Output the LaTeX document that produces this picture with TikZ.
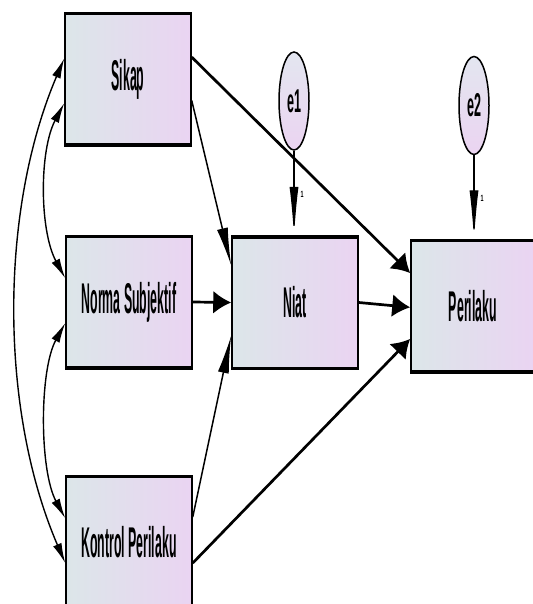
\documentclass[tikz,border=0pt]{standalone}
\usepackage{fontspec}
\setmainfont{Liberation Sans}
\usepackage{graphicx}
\usetikzlibrary{arrows.meta,shapes.geometric,calc}
\definecolor{boxL}{HTML}{DCE6E9}
\definecolor{boxR}{HTML}{EAD4F2}
\definecolor{ellT}{HTML}{E3E6F0}
\definecolor{ellB}{HTML}{EBD4F1}
\newcommand{\boxlabel}[1]{\scalebox{0.287}[1]{\fontsize{43}{45}\selectfont\bfseries #1}}
\newcommand{\elabel}[1]{\scalebox{0.38}[1]{\fontsize{33}{35}\selectfont\bfseries #1}}
\newcommand{\onelabel}{\scalebox{0.6}[1]{\fontsize{9}{9}\selectfont\bfseries 1}}
\begin{document}
\begin{tikzpicture}[x=1pt,y=-1pt,
  varbox/.style={draw=black, line width=1.5pt, left color=boxL, right color=boxR, minimum width=126pt, minimum height=130pt, inner sep=0pt},
  errnode/.style={ellipse, draw=black, line width=1.5pt, top color=ellT, bottom color=ellB, minimum width=30pt, minimum height=98pt, inner sep=0pt},
  thickarrow/.style={line width=2.7pt, -{Latex[length=18pt,width=23pt]}},
  thinarrow/.style={line width=1.5pt, -{Latex[length=38pt,width=11pt]}},
  errarrow/.style={line width=1.3pt, -{Latex[length=50pt,width=9pt]}},
  covar/.style={line width=1.4pt, {Latex[length=20pt,width=9pt]}-{Latex[length=20pt,width=9pt]}},
  edgeframe/.style={line width=3.5pt}
]
\useasboundingbox (0,0) rectangle (532,604);

\node[varbox] (Sikap) at (128,79.5) {\boxlabel{Sikap}};
\node[varbox] (Norma) at (129,302) {\boxlabel{Norma Subjektif}};
\node[varbox] (Kontrol) at (129,542) {\boxlabel{Kontrol Perilaku}};
\node[varbox] (Niat) at (295,302.5) {\boxlabel{Niat}};
\node[varbox, minimum width=124pt] (Perilaku) at (473,306) {\boxlabel{Perilaku}};
\node[errnode] (e1) at (294,101) {\elabel{e1}};
\node[errnode] (e2) at (474,105.5) {\elabel{e2}};

\foreach \n in {Sikap,Norma,Kontrol,Niat,Perilaku}{
  \draw[edgeframe] (\n.north west) -- (\n.north east);
  \draw[edgeframe] (\n.south west) -- (\n.south east);
}

% structural paths
\draw[thickarrow] ($(Sikap.north east)!0.33!(Sikap.south east)$) -- ($(Perilaku.north west)!0.25!(Perilaku.south west)$);
\draw[thinarrow] ($(Sikap.north east)!0.66!(Sikap.south east)$) -- ($(Niat.north west)!0.22!(Niat.south west)$);
\draw[thickarrow] (Norma.east) -- (Niat.west);
\draw[thickarrow] (Niat.east) -- ($(Perilaku.north west)!0.51!(Perilaku.south west)$);
\draw[thinarrow] ($(Kontrol.north east)!0.31!(Kontrol.south east)$) -- ($(Niat.north west)!0.75!(Niat.south west)$);
\draw[thickarrow] ($(Kontrol.north east)!0.66!(Kontrol.south east)$) -- ($(Perilaku.north west)!0.75!(Perilaku.south west)$);

% error terms
\draw[errarrow] (e1.south) -- (e1.south |- Niat.north);
\draw[errarrow] (e2.south) -- (e2.south |- Perilaku.north);
\node[inner sep=0pt] (one1) at (302,194) {\onelabel};
\node[inner sep=0pt] (one2) at (482,198) {\onelabel};

% covariances
\coordinate (sA) at ($(Sikap.north west)!0.34!(Sikap.south west)$);
\coordinate (sB) at ($(Sikap.north west)!0.68!(Sikap.south west)$);
\coordinate (nA) at ($(Norma.north west)!0.32!(Norma.south west)$);
\coordinate (nB) at ($(Norma.north west)!0.66!(Norma.south west)$);
\coordinate (kA) at ($(Kontrol.north west)!0.32!(Kontrol.south west)$);
\coordinate (kB) at ($(Kontrol.north west)!0.66!(Kontrol.south west)$);
\draw[covar] (sB) .. controls ($(sB)+(-25,47)$) and ($(nA)+(-26,-48)$) .. (nA);
\draw[covar] (nB) .. controls ($(nB)+(-26,47)$) and ($(kA)+(-26,-48)$) .. (kA);
\draw[covar] (sA) .. controls ($(sA)+(-65,152)$) and ($(kB)+(-66,-153)$) .. (kB);
\end{tikzpicture}
\end{document}
